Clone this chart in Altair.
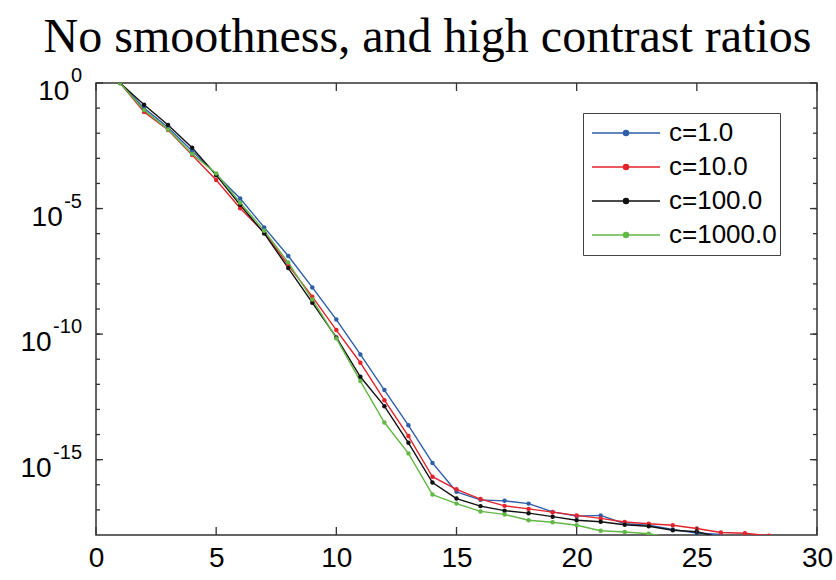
import altair as alt
import pandas as pd

# ---- data (log10 of the error) ----
n_vals = list(range(1, 29))
series_names = ["c=1.0", "c=10.0", "c=100.0", "c=1000.0"]
series_colors = ["#2E5EAA", "#E4232B", "#111111", "#62B845"]

log_c1 = [0, -1.0, -1.77, -2.71, -3.64, -4.6, -5.75, -6.89, -8.14, -9.42,
          -10.81, -12.23, -13.63, -15.13, -16.28, -16.6, -16.64, -16.75,
          -17.08, -17.25, -17.22, -17.55, -17.61, -17.78, -17.92, -17.98, -18.5]
log_c10 = [0, -1.15, -1.87, -2.87, -3.86, -4.99, -5.95, -7.25, -8.51, -9.84,
           -11.14, -12.63, -14.06, -15.68, -16.18, -16.57, -16.84, -16.96,
           -17.09, -17.22, -17.34, -17.48, -17.55, -17.61, -17.74, -17.9,
           -17.93, -18.03]
log_c100 = [0, -0.87, -1.67, -2.58, -3.67, -4.86, -5.99, -7.37, -8.75, -10.13,
            -11.7, -12.87, -14.33, -15.91, -16.55, -16.85, -17.03, -17.13,
            -17.27, -17.41, -17.47, -17.59, -17.65, -17.81, -17.87, -18.1]
log_c1000 = [0, -1.08, -1.85, -2.83, -3.6, -4.77, -5.88, -7.15, -8.62, -10.17,
             -11.87, -13.52, -14.75, -16.39, -16.75, -17.06, -17.18, -17.41,
             -17.49, -17.61, -17.83, -17.88, -17.95, -18.1]

title_text = ["No smoothness, and high contrast ratios"]
x_ticks = [0, 5, 10, 15, 20, 25, 30]
y_major = [1e0, 1e-5, 1e-10, 1e-15]
y_label_base = ["10", "10", "10", "10"]
y_label_exp = ["0", "-5", "-10", "-15"]
y_minor = [10.0 ** (-k) for k in range(1, 18)]

rows = []
for name, logs in zip(series_names, [log_c1, log_c10, log_c100, log_c1000]):
    for n, lv in zip(n_vals, logs):
        rows.append({"n": n, "err": 10.0 ** lv, "series": name})
df = pd.DataFrame(rows)

W, H = 721, 452
FONT = "Liberation Sans"

xscale = alt.Scale(domain=[0, 30], nice=False, zero=False)
yscale = alt.Scale(type="log", domain=[1e-18, 1], nice=False)

legend_path = ("M-1,0H1M-0.075,0A0.075,0.075,0,1,1,0.075,0"
               "A0.075,0.075,0,1,1,-0.075,0Z")

color = alt.Color(
    "series:N",
    scale=alt.Scale(domain=series_names, range=series_colors),
    sort=series_names,
    legend=alt.Legend(
        orient="none", legendX=487, legendY=30, title=None,
        labelFont=FONT, labelFontSize=26, labelColor="black",
        symbolType=legend_path, symbolSize=4624, symbolStrokeWidth=1.4,
        strokeColor="#444444", fillColor="white", padding=3,
        symbolOffset=5, labelOffset=8, clipHeight=34, rowPadding=0,
    ),
)

x_enc = alt.X("n:Q", scale=xscale,
              axis=alt.Axis(values=x_ticks, tickSize=0, domain=False, grid=False,
                            title=None, labelFont=FONT,
                            labelFontSize=28, labelColor="black",
                            labelPadding=9, labelFlush=False))
y_enc = alt.Y("err:Q", scale=yscale, axis=None)

base = alt.Chart(df)
lines = base.mark_line(clip=True, strokeWidth=1.4).encode(x=x_enc, y=y_enc, color=color)
points = base.mark_point(clip=True, filled=True, size=20, opacity=1).encode(
    x="n:Q", y="err:Q", color=alt.Color("series:N", legend=None))

xt = pd.DataFrame({"t": x_ticks})
yM = pd.DataFrame({"v": y_major, "base": y_label_base, "exp": y_label_exp})
ym = pd.DataFrame({"v": y_minor})
tick_color = "#333333"

xb = alt.Chart(xt).mark_rule(color=tick_color, strokeWidth=1.3).encode(
    x=alt.X("t:Q", scale=xscale), y=alt.value(H), y2=alt.value(H - 8))
xtop = alt.Chart(xt).mark_rule(color=tick_color, strokeWidth=1.3).encode(
    x=alt.X("t:Q", scale=xscale), y=alt.value(0), y2=alt.value(8))
yl_M = alt.Chart(yM).mark_rule(color=tick_color, strokeWidth=1.3).encode(
    y=alt.Y("v:Q", scale=yscale), x=alt.value(0), x2=alt.value(7))
yr_M = alt.Chart(yM).mark_rule(color=tick_color, strokeWidth=1.3).encode(
    y=alt.Y("v:Q", scale=yscale), x=alt.value(W), x2=alt.value(W - 7))
yl_m = alt.Chart(ym).mark_rule(color=tick_color, strokeWidth=1.3).encode(
    y=alt.Y("v:Q", scale=yscale), x=alt.value(0), x2=alt.value(4))
yr_m = alt.Chart(ym).mark_rule(color=tick_color, strokeWidth=1.3).encode(
    y=alt.Y("v:Q", scale=yscale), x=alt.value(W), x2=alt.value(W - 4))

# y tick labels: "10" with a raised exponent, right-aligned as a whole
EXP_SIZE = 20
exp_text = alt.Chart(yM).mark_text(
    align="right", baseline="alphabetic", font=FONT, fontSize=EXP_SIZE,
    color="black", dy=-1).encode(
    y=alt.Y("v:Q", scale=yscale), x=alt.value(-14), text="exp:N")
base_text = alt.Chart(yM).transform_calculate(
    bx="-14 - 1.5 - length(datum.exp) * 0.556 * %d"
       " + (indexof(datum.exp, '-') >= 0 ? 0.223 * %d : 0)" % (EXP_SIZE, EXP_SIZE)
).mark_text(
    align="right", baseline="alphabetic", font=FONT, fontSize=28,
    color="black", dy=17).encode(
    y=alt.Y("v:Q", scale=yscale), x=alt.X("bx:Q", scale=None), text="base:N")

# chart title as a text mark above the plot
title_mark = alt.Chart(pd.DataFrame({"t": title_text})).mark_text(
    align="center", baseline="alphabetic", font="Liberation Serif",
    fontSize=48, color="black").encode(
    x=alt.value(W / 2 - 29), y=alt.value(-31), text="t:N")

chart = alt.layer(lines, points, xb, xtop, yl_M, yr_M, yl_m, yr_m,
                  exp_text, base_text, title_mark).properties(
    width=W, height=H,
    autosize=alt.AutoSizeParams(type="none"),
    padding={"left": 96, "top": 83, "right": 19, "bottom": 45},
    background="white",
).configure_view(stroke="#333333", strokeWidth=1.5)

chart.save("out.html", embed_options={"renderer": "svg", "actions": False})
